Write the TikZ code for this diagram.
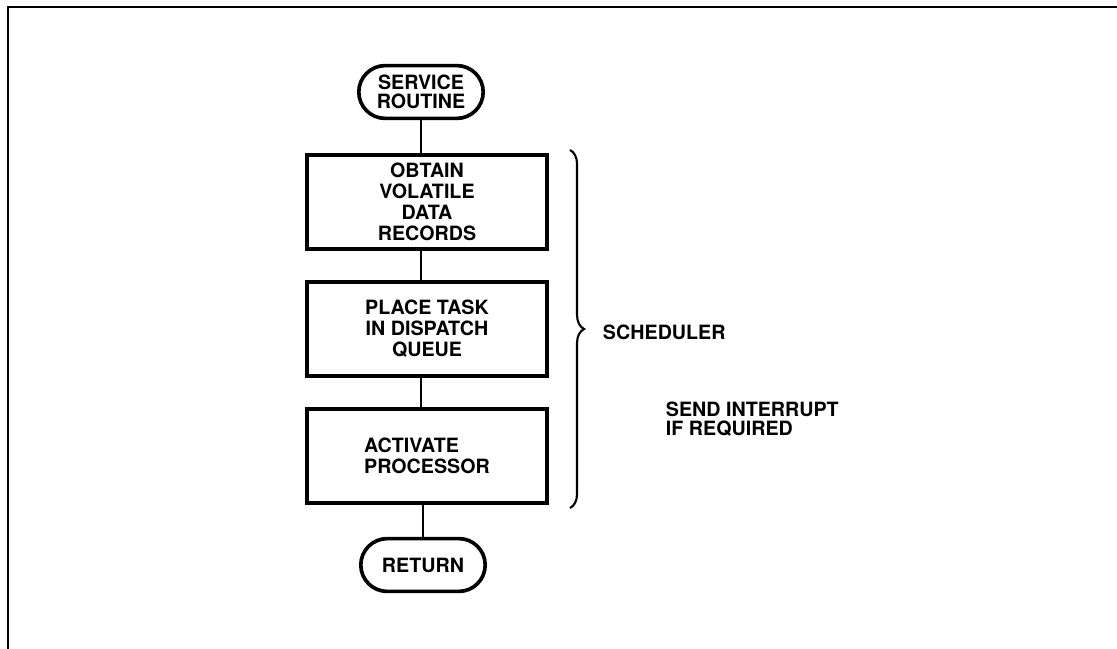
\documentclass[tikz,border=0pt]{standalone}
\usepackage{fontspec}
\setmainfont{TeX Gyre Heros}
\usetikzlibrary{shapes.misc,decorations.pathreplacing}

\begin{document}
\begin{tikzpicture}
  [x = .025cm, y = -.025cm,
   font = \fontsize{14}{15}\selectfont\bfseries,
   term/.style = {draw, rounded rectangle, line width = 2.6pt,
                  minimum width = 3.25cm, minimum height = 1.32cm, inner sep = 2pt,
                  align = center},
   stepbox/.style = {draw, rectangle, line width = 2.8pt,
                     minimum width = 6cm, minimum height = 2.35cm, align = center},
   link/.style = {line width = 1.8pt}]
  \useasboundingbox (0,0) rectangle (1117,649);
  % open frame, top and left only
  \draw[line width = 1.8pt] (8,649) -- (8,7) -- (1117,7);

  \node[term, font = \fontsize{14}{13.5}\selectfont\bfseries] (svc) at (421,92) {SERVICE\\ROUTINE};
  \node[stepbox] (obtain) at (427,202) {OBTAIN\\VOLATILE\\DATA\\RECORDS};
  \node[stepbox] (place) at (427,329) {PLACE TASK\\IN DISPATCH\\QUEUE};
  \node[stepbox, align = left] (activate) at (427,456) {ACTIVATE\\PROCESSOR};
  \node[term] (ret) at (423,565) {RETURN};

  \draw[link] (svc.south) -- (svc.south |- obtain.north);
  \draw[link] (svc.south |- obtain.south) -- (svc.south |- place.north);
  \draw[link] (svc.south |- place.south) -- (svc.south |- activate.north);
  \draw[link] (ret.north |- activate.south) -- (ret.north);

  % brace round the scheduler steps
  \coordinate (bracetop) at (570,150);
  \coordinate (bracebot) at (570,508);
  \draw[line width = 1.5pt, decorate, decoration = {brace, amplitude = 10}]
    (bracetop) -- (bracebot);
  \node[anchor = west] (sched) at (598,332) {SCHEDULER};
  \node[anchor = west, align = left, font = \fontsize{14}{14}\selectfont\bfseries]
    (intr) at (661,419) {SEND INTERRUPT\\IF REQUIRED};
\end{tikzpicture}
\end{document}
